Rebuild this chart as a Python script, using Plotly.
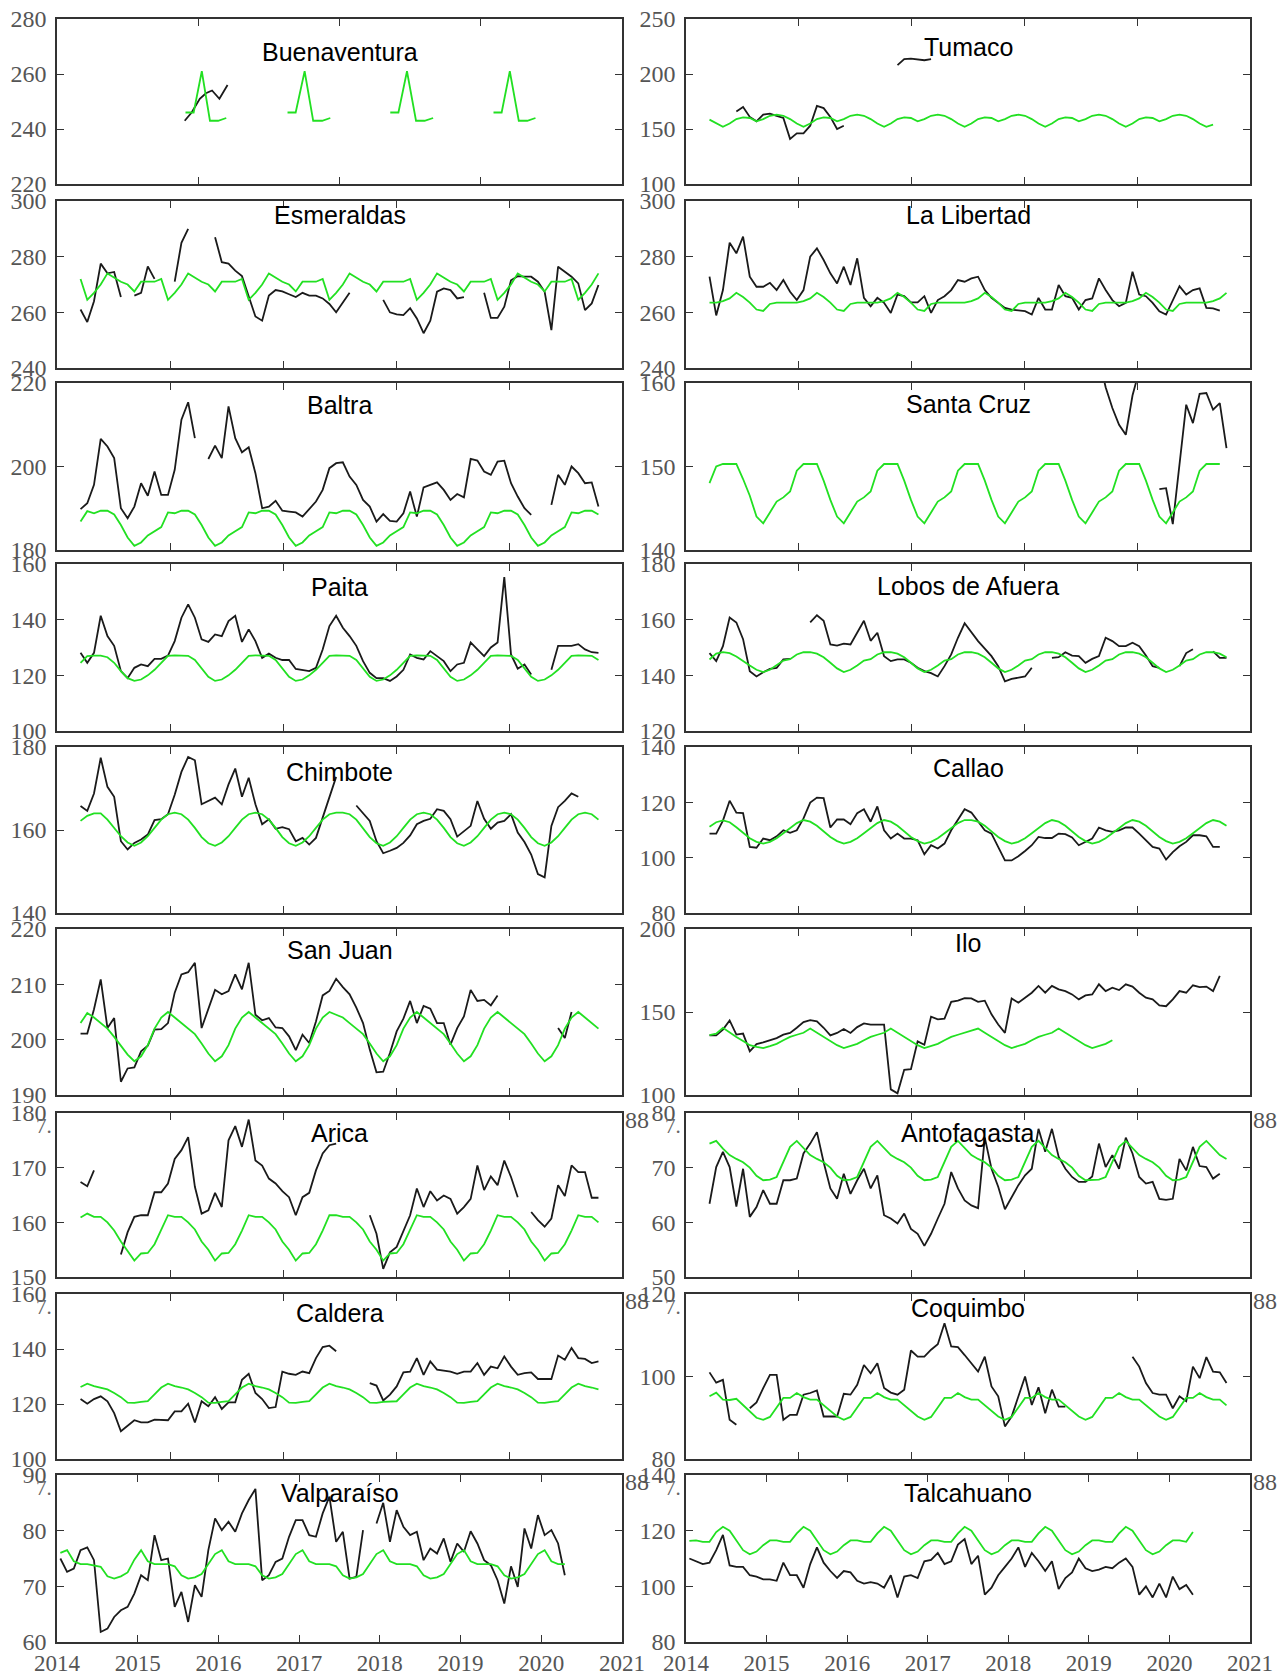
import plotly.graph_objects as go

W, H = 1279, 1677

STATIONS = ["Buenaventura", "Tumaco", "Esmeraldas", "La Libertad", "Baltra",
            "Santa Cruz", "Paita", "Lobos de Afuera", "Chimbote", "Callao",
            "San Juan", "Ilo", "Arica", "Antofagasta", "Caldera", "Coquimbo",
            "Valparaíso", "Talcahuano"]

Y_RANGES = [[220, 280], [100, 250], [240, 300], [240, 300], [180, 220], [140, 160],
            [100, 160], [120, 180], [140, 180], [80, 140], [190, 220], [100, 200],
            [150, 180], [50, 80], [100, 160], [80, 120], [60, 90], [80, 140]]
Y_TICKS = [[220, 240, 260, 280], [100, 150, 200, 250], [240, 260, 280, 300],
           [240, 260, 280, 300], [180, 200, 220], [140, 150, 160],
           [100, 120, 140, 160], [120, 140, 160, 180], [140, 160, 180],
           [80, 100, 120, 140], [190, 200, 210, 220], [100, 150, 200],
           [150, 160, 170, 180], [50, 60, 70, 80], [100, 120, 140, 160],
           [80, 100, 120], [60, 70, 80, 90], [80, 100, 120, 140]]
X_TICKS_QUARTER = [2015.75, 2017.5, 2019.25]
X_TICKS_FIFTH = [2015.4, 2016.8, 2018.2, 2019.6]
X_TICKS_YEAR = [2014, 2015, 2016, 2017, 2018, 2019, 2020, 2021]

# ---------------- data (observed: black, model: green) ----------------
# Buenaventura (decimal years)
BUE_OBS_X = [2015.582, 2015.668, 2015.769, 2015.845, 2015.921, 2016.012, 2016.113]
BUE_OBS_Y = [243, 246, 251, 253, 254, 251, 256]
BUE_MOD_X = [2015.592, 2015.693, 2015.794, 2015.895, 2015.996, 2016.097, None,
             2016.856, 2016.957, 2017.068, 2017.174, 2017.285, 2017.386, None,
             2018.129, 2018.230, 2018.336, 2018.448, 2018.554, 2018.660, None,
             2019.408, 2019.509, 2019.610, 2019.721, 2019.827, 2019.928]
BUE_MOD_Y = [246, 246, 261, 243, 243, 244, None,
             246, 246, 261, 243, 243, 244, None,
             246, 246, 261, 243, 243, 244, None,
             246, 246, 261, 243, 243, 244]

# Other stations: segments of (first month index, values); month 0 = Apr 2014
TUM_OBS = [(4, [166, 170, 161, 157, 163, 164, 162, 160, 141, 146, 146, 153, 171, 169, 161, 150, 153]),
           (28, [208, 213.5, 214, 213, 212.5, 213.5])]
TUM_MOD = (0, [158.5, 155,
               152, 155, 159, 160.5, 160, 157, 159, 162, 163, 162, 159, 155,
               152, 155, 159, 160.5, 160, 157, 159, 162, 163, 162, 159, 155,
               152, 155, 159, 160.5, 160, 157, 159, 162, 163, 162, 159, 155,
               152, 155, 159, 160.5, 160, 157, 159, 162, 163, 162, 159, 155,
               152, 155, 159, 160.5, 160, 157, 159, 162, 163, 162, 159, 155,
               152, 155, 159, 160.5, 160, 157, 159, 162, 163, 162, 159, 155,
               152, 154])

ESM_OBS = [(0, [261, 256.5, 264, 277.5, 274, 274.5, 265.5]),
           (8, [266, 267, 276.5, 272]),
           (14, [271, 285, 290]),
           (20, [287, 278, 277.5, 275, 273, 265.5, 258.5, 257, 266, 268, 267.5, 266.5, 265.5,
                 267, 266, 266, 265, 263, 260, 263.5, 267]),
           (45, [264.5, 260, 259.3, 259, 261.5, 257.8, 252.5, 257, 267.4, 268.6, 268, 265, 265.5]),
           (60, [267, 258, 258, 262, 271.5, 273, 272.8, 272.8, 271, 267.4, 253.6, 276.4, 274.6,
                 272.8, 270.4, 260.8, 263.2, 269.8])]
ESM_MOD = (0, [272,
               264.5, 267, 270, 274, 272.5, 271, 270, 267.5, 271, 271, 271, 272,
               264.5, 267, 270, 274, 272.5, 271, 270, 267.5, 271, 271, 271, 272,
               264.5, 267, 270, 274, 272.5, 271, 270, 267.5, 271, 271, 271, 272,
               264.5, 267, 270, 274, 272.5, 271, 270, 267.5, 271, 271, 271, 271, 272,
               264.5, 267, 270, 274, 272.5, 271, 270, 267.5, 271, 271, 271, 272,
               264.5, 267, 270, 274, 272.5, 271, 270, 267.5, 271, 271, 271, 272,
               264.5, 267, 270, 274])

LIB_OBS = [(0, [272.8, 258.9, 268, 285, 281.2, 287.2, 272.8, 269.2, 269.2, 270.6,
                268, 271.6, 267.4, 264.4, 268, 280, 283, 278.8, 274, 270.4,
                276.4, 269.8, 279.4, 265.2, 262.2, 265.2, 263.4, 259.8, 266.4, 265.8,
                263.6, 263.6, 265.8, 259.8, 264.4, 265.8, 268, 271.6, 271, 272.2,
                272.8, 268, 265.2, 263.4, 261.6, 261, 260.6, 260.4, 259.2, 265.2,
                261, 261, 269.8, 265.8, 265.2, 261, 264.4, 265, 272.2, 268,
                264.4, 262.2, 263.4, 274.6, 266.4, 265.8, 263.4, 260.4, 259.2, 264.4,
                269.4, 266.4, 268, 268.6, 261.6, 261.4, 260.6])]
LIB_MOD = (0, [263.5, 263.5, 264, 265,
               267, 265.5, 263.5, 261, 260.5, 263, 263.5, 263.5, 263.5, 263.5, 264, 265,
               267, 265.5, 263.5, 261, 260.5, 263, 263.5, 263.5, 263.5, 263.5, 264, 265,
               267, 265.5, 263.5, 261, 260.5, 263, 263.5, 263.5, 263.5, 263.5, 263.5, 264, 265,
               267, 265.5, 263.5, 261, 260.5, 263, 263.5, 263.5, 263.5, 263.5, 264, 265,
               267, 265.5, 263.5, 261, 260.5, 263, 263.5, 263.5, 263.5, 263.5, 264, 265,
               267, 265.5, 263.5, 261, 260.5, 263, 263.5, 263.5, 263.5, 263.5, 264, 265,
               267])

BAL_OBS = [(0, [189.8, 191.2, 195.6, 206.6, 204.8, 202, 190, 187.6, 190.4, 196, 193, 198.8,
                193.2, 193.2, 199.2, 211.2, 215.4, 206.8]),
           (19, [201.8, 205, 202, 214.4, 206.8, 203.4, 204.6, 198.4, 190, 190.4,
                 191.8, 189.4, 189.2, 189, 188, 189.8, 191.6, 194.4, 199.6, 200.8,
                 201, 197.6, 195.6, 192, 190.4, 186.8, 188.6, 187, 186.8, 188.8,
                 194, 188, 195, 195.6, 196.2, 194.4, 192, 193.4, 192.6, 201.8,
                 201.4, 198.8, 198, 201.2, 201.4, 196, 192.8, 190, 188.4]),
           (70, [190.8, 198, 195.6, 200, 198.4, 196, 196.2, 190.4])]
BAL_MOD = (0, [186.8, 189.3, 188.8, 189.4, 189.4, 188.5, 186, 183, 181,
               181.8, 183.5, 184.5, 185.5, 189, 188.8, 189.4, 189.4, 188.5, 186, 183, 181,
               181.8, 183.5, 184.5, 185.5, 189, 188.8, 189.4, 189.4, 188.5, 186, 183, 181,
               181.8, 183.5, 184.5, 185.5, 189, 188.8, 189.4, 189.4, 188.5, 186, 183, 181,
               181.8, 183.5, 184.5, 185.5, 189, 188.8, 189.4, 189.4, 188.5, 186, 183, 181,
               181.8, 183.5, 184.5, 185.5, 189, 188.8, 189.4, 189.4, 188.5, 186, 183, 181,
               181.8, 183.5, 184.5, 185.5, 189, 188.8, 189.4, 189.4, 188.5])

SCZ_OBS = [(58, [163, 159.5, 157, 155, 153.8, 158.5, 161.5]),
           (67, [147.3, 147.4, 143.1, 150.5, 157.4, 155.2, 158.7, 158.8, 156.8, 157.6, 152.2])]
SCZ_MOD = (0, [148, 150, 150.3, 150.3, 150.3, 148.5, 146.5, 144, 143.2,
               144.5, 145.8, 146.3, 147, 149.5, 150.3, 150.3, 150.3, 148.3, 146, 144, 143.2,
               144.5, 145.8, 146.3, 147, 149.5, 150.3, 150.3, 150.3, 148.3, 146, 144, 143.2,
               144.5, 145.8, 146.3, 147, 149.5, 150.3, 150.3, 150.3, 148.3, 146, 144, 143.2,
               144.5, 145.8, 146.3, 147, 149.5, 150.3, 150.3, 150.3, 148.3, 146, 144, 143.2,
               144.5, 145.8, 146.3, 147, 149.5, 150.3, 150.3, 150.3, 148.3, 146, 144, 143.2,
               144.5, 145.8, 146.3, 147, 149.5, 150.3, 150.3, 150.3])

PAI_OBS = [(0, [128.1, 124.5, 128.1, 141.4, 134.1, 130.6, 121.5, 119, 122.7, 123.9,
                123.3, 125.9, 125.9, 127.1, 132.3, 140.7, 145.5, 140.7, 132.9, 132,
                134.7, 134.1, 139.5, 141.4, 132, 136.5, 132.3, 126.3, 127.8, 126.3,
                125.5, 125.5, 122.3, 122, 121.5, 122.7, 129.3, 137.7, 141.4, 137.1,
                134.1, 130.6, 125.1, 120.9, 119, 119, 118, 119.6, 122, 127.5,
                126.3, 125.7, 128.7, 126.9, 125.1, 121.5, 123.9, 124.5, 131.8, 129.3,
                126.9, 130, 131.8, 155.3, 127.5, 122.4, 123.9, 120.3]),
           (70, [122, 130.6, 130.6, 130.6, 131.2, 129.3, 128.3, 128.1])]
PAI_MOD = (0, [124.5, 126.9, 127.1, 127.1, 126.5, 124.5, 121.5, 119, 118,
               118.5, 120, 122, 124.5, 127, 127.2, 127.2, 127, 125.5, 122.5, 119.5, 118,
               118.5, 120, 122, 124.5, 127, 127.2, 127.2, 127, 125.5, 122.5, 119.5, 118,
               118.5, 120, 122, 124.5, 127, 127.2, 127.2, 127, 125.5, 122.5, 119.5, 118,
               118.5, 120, 122, 124.5, 127, 127.2, 127.2, 127, 125.5, 122.5, 119.5, 118,
               118.5, 120, 122, 124.5, 127, 127.2, 127.2, 127, 125.5, 122.5, 119.5, 118,
               118.5, 120, 122, 124.5, 127, 127.2, 127.2, 127, 125.5])

LOB_OBS = [(0, [148, 145.1, 150.5, 160.8, 159, 153, 141.5, 139.6, 141.1, 142.3, 142.7, 145.7, 145.9]),
           (15, [159, 161.6, 159.6, 151.1, 150.7, 151.4, 151.1, 155.3, 159.6, 152.4,
                 155.3, 146.9, 145.1, 145.7, 145.7, 144.5, 142.7, 141.5, 140.8, 139.6,
                 143.3, 147.5, 153.5, 158.7, 155.3, 152.3, 149.6, 146.9, 143.3, 137.8,
                 138.7, 139.1, 139.6, 142.7]),
           (51, [146.3, 146.5, 148.3, 147.1, 146.9, 144.5, 145.9, 146.9, 153.5, 152.3,
                 150.5, 150.5, 151.7, 150.5, 147.1, 143.3, 142.7]),
           (70, [143.3, 148, 149.4]),
           (75, [148.6, 146.3, 146.3])]
LOB_MOD = (0, [145.7, 147.8, 148.3, 148, 146.8, 145, 143.5, 142, 141.2,
               142, 143.5, 145.3, 145.8, 147.5, 148.3, 148.3, 147.8, 146.5, 144.5, 142.5, 141.2,
               142, 143.5, 145.3, 145.8, 147.5, 148.3, 148.3, 147.8, 146.5, 144.5, 142.5, 141.2,
               142, 143.5, 145.3, 145.8, 147.5, 148.3, 148.3, 147.8, 146.5, 144.5, 142.5, 141.2,
               142, 143.5, 145.3, 145.8, 147.5, 148.3, 148.3, 147.8, 146.5, 144.5, 142.5, 141.2,
               142, 143.5, 145.3, 145.8, 147.5, 148.3, 148.3, 147.8, 146.5, 144.5, 142.5, 141.2,
               142, 143.5, 145.3, 145.8, 147.5, 148.3, 148.3, 147.8, 146.5])

CHI_OBS = [(0, [165.8, 164.6, 168.8, 177.4, 170.4, 168, 157.3, 155.3, 156.9, 157.7,
                158.9, 162.4, 162.6, 163.8, 168.5, 174, 177.6, 176.8, 166.2, 167,
                167.8, 166.2, 171, 174.8, 168, 172.6, 166.2, 161.4, 162.6, 160.3,
                160.7, 160.2, 157.3, 158.1, 156.5, 158.1, 163, 168, 172.8]),
           (41, [165.9, 164, 162.2, 157.3, 154.4, 155, 155.7, 156.9, 158.7, 161.4,
                 162.2, 162.7, 165, 164.6, 162.6, 158.4, 159.8, 161, 167, 162.7,
                 160.3, 161.8, 162.2, 163.8, 159.4, 157.1, 154.1, 149.4, 148.6, 161,
                 165.5, 167, 168.8, 168])]
CHI_MOD = (0, [162.2, 163.4, 164, 164, 162.5, 160.5, 158.5, 157, 156.2,
               157, 158.5, 160.5, 162.5, 163.8, 164.2, 163.8, 162.5, 160.5, 158.3, 156.8, 156.2,
               157, 158.5, 160.5, 162.5, 163.8, 164.2, 163.8, 162.5, 160.5, 158.3, 156.8, 156.2,
               157, 158.5, 160.5, 162.5, 163.8, 164.2, 164.2, 163.8, 162.5, 160.5, 158.3, 156.8, 156.2,
               157, 158.5, 160.5, 162.5, 163.8, 164.2, 163.8, 162.5, 160.5, 158.3, 156.8, 156.2,
               157, 158.5, 160.5, 162.5, 163.8, 164.2, 163.8, 162.5, 160.5, 158.3, 156.8, 156.2,
               157, 158.5, 160.5, 162.5, 163.8, 164.2, 163.8, 162.5])

CAL_OBS = [(0, [108.7, 108.7, 113.4, 120.6, 116.3, 116.1, 103.9, 103.6, 106.9, 106.3,
                107.7, 109.9, 109, 109.9, 114.2, 119.9, 121.7, 121.5, 110.9, 113.8,
                113.8, 112.1, 116.1, 117.5, 113, 118.5, 109.9, 106.9, 108.7, 106.9,
                106.9, 106.3, 101.2, 104.5, 103.3, 105.1, 109.9, 113.5, 117.5, 116.3,
                113, 109.9, 108.7, 103.9, 99, 99, 100.5, 102.4, 104.5, 107.5,
                107.1, 107.1, 108.7, 108.5, 107.3, 104.5, 105.7, 106.9, 110.9, 109.9,
                109.3, 109.9, 110.9, 110.9, 108.7, 106.3, 103.9, 103.3, 99.3, 102,
                104.1, 105.7, 108.1, 108.1, 107.7, 103.9, 103.9])]
CAL_MOD = (0, [111.2, 112.8, 113.5, 112.8, 111, 109, 107, 105.7, 105.1,
               105.7, 107, 108.8, 110.8, 112.5, 113.6, 113, 111.5, 109.5, 107.5, 106, 105.1,
               105.7, 107, 108.8, 110.8, 112.5, 113.6, 113, 111.5, 109.5, 107.5, 106, 105.1,
               105.7, 107, 108.8, 110.8, 112.5, 113.6, 113.6, 113, 111.5, 109.5, 107.5, 106, 105.1,
               105.7, 107, 108.8, 110.8, 112.5, 113.6, 113, 111.5, 109.5, 107.5, 106, 105.1,
               105.7, 107, 108.8, 110.8, 112.5, 113.6, 113, 111.5, 109.5, 107.5, 106, 105.1,
               105.7, 107, 108.8, 110.8, 112.5, 113.6, 113, 111.5])

SJU_OBS = [(0, [201.1, 201.1, 205.5, 210.9, 202.1, 203.9, 192.4, 194.8, 195, 197.9,
                198.9, 201.8, 201.9, 203, 208.5, 211.8, 212.2, 213.9, 202.1, 205.5,
                209, 208.2, 208.8, 211.8, 209.1, 213.9, 204.5, 203.5, 203.9, 202.2,
                202.1, 200.6, 198.1, 200.9, 199.4, 203.3, 208, 208.8, 211, 209.5,
                208.2, 205.8, 203, 198.2, 194.1, 194.2, 197.6, 201.5, 203.8, 207,
                203, 206.1, 205.6, 203, 203, 199.1, 202.1, 204.2, 209, 207,
                207.2, 206.2, 208]),
           (71, [202.1, 200.3, 205])]
SJU_MOD = (0, [203, 204.8, 204, 203, 202, 200.5, 199, 197.3, 196.1,
               197, 199, 202, 204, 205, 204, 203, 202, 201, 199.3, 197.5, 196.1,
               197, 199, 202, 204, 205, 204, 203, 202, 201, 199.3, 197.5, 196.1,
               197, 199, 202, 204, 205, 204.5, 204, 203, 202, 201, 199.3, 197.5, 196.1,
               197, 199, 202, 204, 205, 204, 203, 202, 201, 199.3, 197.5, 196.1,
               197, 199, 202, 204, 205, 204, 203, 202, 201, 199.3, 197.5, 196.1,
               197, 199, 202, 204, 205, 204, 203, 202])

ILO_OBS = [(0, [135.9, 135.9, 139.4, 144.9, 136.4, 137, 126.3, 130.7, 131.7, 132.9,
                134.3, 136.4, 137.4, 140.5, 143.9, 145.1, 144.4, 140.5, 135.9, 137.4,
                139.8, 137.4, 140.9, 143.1, 142.4, 142.4, 142.4, 103.4, 101, 115.2,
                115.6, 132.3, 130.3, 147.2, 145.6, 146, 156.1, 156.8, 158.4, 158.2,
                156.1, 156.8, 148.6, 142.5, 137.4, 158.2, 155.6, 158.6, 161.6, 165.7,
                161.6, 165.7, 163.6, 162.6, 160.6, 157.6, 160, 160.6, 166.7, 162.6,
                164.6, 163.2, 166.7, 165.3, 161.6, 158.6, 157.6, 154, 153.5, 157.6,
                162.6, 161.6, 166.1, 165, 165.3, 162.6, 171.7])]
ILO_MOD = (0, [136, 137, 140.5, 137.5, 135, 132.5, 130, 129, 128.3,
               129.5, 130.8, 133, 135, 136.3, 137.5, 140, 137.5, 135, 132.5, 130, 128.3,
               129.5, 130.8, 133, 135, 136.3, 137.5, 140, 137.5, 135, 132.5, 130, 128.3,
               129.5, 130.8, 133, 135, 136.3, 137.5, 139, 140, 137.5, 135, 132.5, 130, 128.3,
               129.5, 130.8, 133, 135, 136.3, 137.5, 140, 137.5, 135, 132.5, 130, 128.3,
               129.5, 130.8, 133])

ARI_OBS = [(0, [167.4, 166.6, 169.5]),
           (6, [154.1, 158.2, 161, 161.3, 161.3, 165.5, 165.5, 167.1, 171.6, 173.2,
                175.6, 166.5, 161.6, 162.2, 165.4, 162.8, 175, 177.6, 173.8, 178.8,
                171.3, 170.4, 168, 167.1, 165.7, 164.6, 161.3, 164.6, 165.4, 169.5,
                172.6, 174.1, 174.4]),
           (43, [161.3, 157.9, 151.5, 154.5, 155.5, 158.5, 161.3, 166.2, 162.8, 165.7,
                 164, 164.9, 164.3, 161.6, 162.8, 164.3, 170.4, 165.9, 168.4, 166.8,
                 171.3, 168.3, 164.6]),
           (67, [161.9, 160.4, 159.2, 160.7, 166.8, 164.8, 170.4, 169.2, 169.2, 164.5, 164.5])]
ARI_MOD = (0, [160.9, 161.6, 161, 161, 160, 158.5, 156.5, 154.8, 153,
               154.3, 154.4, 156, 158.5, 161.3, 161, 161, 160, 158.7, 156.5, 155, 153,
               154.3, 154.4, 156, 158.5, 161.3, 161, 161, 160, 158.7, 156.5, 155, 153,
               154.3, 154.4, 156, 158.5, 161.3, 161.3, 161, 161, 160, 158.7, 156.5, 155, 153,
               154.3, 154.4, 156, 158.5, 161.3, 161, 161, 160, 158.7, 156.5, 155, 153,
               154.3, 154.4, 156, 158.5, 161.3, 161, 161, 160, 158.7, 156.5, 155, 153,
               154.3, 154.4, 156, 158.5, 161.3, 161, 161, 160])

ANT_OBS = [(0, [63.4, 70.1, 72.9, 70.1, 62.9, 69.8, 61, 62.8, 65.9, 63.4,
                63.4, 67.7, 67.7, 68, 72.6, 74.4, 76.5, 71, 66.2, 64.3,
                68.9, 65.2, 67.7, 69.8, 66.2, 68.6, 61.3, 60.7, 59.8, 61.6,
                58.8, 57.9, 55.7, 57.9, 60.7, 63.4, 69.2, 66.2, 64, 63.1,
                62.6, 75.5, 69.8, 66.5, 62.4, 64.6, 66.8, 68.6, 69.8, 77.1,
                72.9, 77.1, 72, 69.8, 68.3, 67.4, 67.4, 68.4, 74.4, 70.1,
                72.3, 69.8, 75.5, 72.6, 68.3, 67.1, 67.4, 64.3, 64.1, 64.3,
                71.6, 69.5, 73.8, 70.3, 70.1, 68, 68.9])]
ANT_MOD = (0, [74.4,
               74.9, 73.5, 72.3, 71.6, 71, 70, 68.5, 67.7, 67.8, 68.3, 71, 73.8,
               74.9, 73.5, 72.3, 71.6, 71, 70, 68.5, 67.7, 67.8, 68.3, 71, 73.8,
               74.9, 73.5, 72.3, 71.6, 71, 70, 68.5, 67.7, 67.8, 68.3, 71, 73.8,
               74.9, 73.5, 72.3, 71.6, 71, 70, 68.5, 67.7, 67.8, 68.3, 71, 73.8,
               74.9, 73.5, 72.3, 71.6, 71, 70, 68.5, 67.7, 67.8, 67.8, 68.3, 71, 73.8,
               74.9, 73.5, 72.3, 71.6, 71, 70, 68.5, 67.7, 67.8, 68.3, 71, 73.8,
               74.9, 73.5, 72.3, 71.6])

CLD_OBS = [(0, [121.8, 120.1, 121.8, 122.8, 121, 116.7, 110.1, 112.1, 114.1, 113.3,
                113.3, 114.3, 114.1, 114.1, 117.3, 117.3, 120.1, 113.3, 121, 119.2,
                122.5, 118.2, 120.6, 120.6, 128.8, 131, 124, 121.8, 118.5, 118.9,
                131.8, 131, 130.6, 131.8, 131.2, 136.7, 140.7, 141.2, 139.2]),
           (43, [127.6, 126.7, 121.3, 123.4, 126.4, 131.5, 131.8, 136.7, 130.6, 135.5,
                 132.5, 132.2, 131.8, 131, 131.8, 131.8, 134.9, 130.6, 133.6, 133,
                 137.3, 133.6, 130.6, 131.2, 131.5, 129.1, 129.1, 129.1, 137.6, 136.1,
                 140.4, 136.7, 136.4, 134.9, 135.5])]
CLD_MOD = (0, [126.2,
               127.4, 126.5, 126, 125.3, 124, 122.5, 120.5, 120.4, 120.8, 121, 123.5, 126,
               127.4, 126.5, 126, 125.3, 124, 122.5, 120.5, 120.4, 120.8, 121, 123.5, 126,
               127.4, 126.5, 126, 125.3, 124, 122.5, 120.5, 120.4, 120.8, 121, 123.5, 126,
               127.4, 126.5, 126, 125.3, 124, 122.5, 120.5, 120.4, 120.8, 120.8, 121, 123.5, 126,
               127.4, 126.5, 126, 125.3, 124, 122.5, 120.5, 120.4, 120.8, 121, 123.5, 126,
               127.4, 126.5, 126, 125.3, 124, 122.5, 120.5, 120.4, 120.8, 121, 123.5, 126,
               127.4, 126.5, 126, 125.3])

COQ_OBS = [(0, [101, 98.5, 99.2, 89.5, 88.3]),
           (6, [92.3, 93.7, 97.2, 100.4, 100.4, 89.5, 90.7, 90.7, 95.6, 96,
                96.6, 90.3, 90.3, 90.3, 95.8, 95.6, 98, 102.8, 100.8, 103.2,
                97.2, 96.1, 95.6, 96.8, 106.3, 104.8, 104.8, 106.5, 107.8, 112.9,
                107.3, 107.1, 105.2, 103.2, 101.2, 104.8, 97.6, 95.2, 87.9, 90.3,
                95.2, 100, 93.1, 97.4, 91.1, 96.8, 92.7, 92.7]),
           (63, [104.8, 102.4, 98.4, 96, 95.6, 95.6, 92.3, 95.2, 94, 102.4, 99.6, 104.7, 101.2, 101, 98.4])]
COQ_MOD = (0, [95.2, 96.1, 94.4, 94.3, 94.6, 93, 91.5, 90, 89.5,
               90.2, 92.5, 94.8, 94.8, 96, 95, 94.4, 94.4, 93, 91.5, 90.3, 89.5,
               90.2, 92.5, 94.8, 94.8, 96, 95, 94.4, 94.4, 93, 91.5, 90.3, 89.5,
               90.2, 92.5, 94.8, 94.8, 96, 95, 94.4, 94.4, 93, 91.5, 90.3, 89.5,
               90.2, 92.5, 94.8, 94.8, 96, 95, 94.4, 94.4, 93, 91.5, 90.3, 89.5,
               90.2, 92.5, 94.8, 94.8, 96, 95, 94.4, 94.4, 93, 91.5, 90.3, 89.5,
               90.2, 92.5, 94.8, 94.8, 96, 95, 94.4, 94.4, 93])

VAL_OBS = [(-3, [75, 72.6, 73.2, 76.5, 77, 74.7, 61.8, 62.4, 64.5, 65.7, 66.3, 68.7, 72, 71.1,
                 79.2, 74.7, 75, 66.3, 69, 63.6, 70.2, 68.1, 76.5, 82.2, 80.1, 81.6, 79.8,
                 83.1, 85.5, 87.5, 71.1, 72, 74.4, 75, 78.9, 81.9, 81.9, 79.2, 78.9, 83.1,
                 86.1, 78, 79.8, 71.4, 71.7, 80.1]),
           (44, [81.3, 85, 78, 83.7, 80.7, 79.2, 79.8, 74.7, 76.8, 75.9, 78.6, 74.4, 77.7,
                 76.2, 79.9, 77.7, 74.7, 73.8, 71.1, 66.9, 73.6, 69.9, 80.4, 76.8, 82.8,
                 79.2, 80.1, 77.7, 72])]
VAL_MOD = (-3, [76,
                76.5, 74.5, 74, 74, 73.8, 73.5, 71.8, 71.4, 71.8, 72.5, 74.8,
                76.5, 74.5, 74, 74, 74, 73.6, 72, 71.4, 71.6, 72.2, 74, 75.8,
                76.5, 74.5, 74, 74, 74, 73.6, 72, 71.4, 71.6, 72.2, 74, 75.8,
                76.5, 74.5, 74, 74, 74, 73.6, 72, 71.4, 71.6, 72.2, 74, 75.8,
                76.5, 74.5, 74, 74, 74, 73.6, 72, 71.4, 71.6, 72.2, 74, 75.8,
                76.5, 74.5, 74, 74, 74, 73.6, 72, 71.4, 71.6, 72.2, 74, 75.8,
                76.5, 74.5, 74, 74])

TAL_OBS = [(-3, [110, 109, 108, 108.5, 113, 118.5, 107.5, 107, 107, 104,
                 103.5, 102.5, 102.5, 102, 108.5, 104, 104, 99.5, 108, 114,
                 108.5, 105.5, 103, 105.5, 105, 102, 101, 101.5, 101, 99.5,
                 104, 96, 103.5, 104, 103, 109, 109.5, 112, 108, 109,
                 115, 117, 108, 111, 97, 99.5, 104, 107, 110, 114,
                 107, 112, 109, 105.5, 109, 99, 103, 105, 110, 106.5,
                 105.5, 106, 107, 106.5, 108.5, 110, 107, 97, 100, 96,
                 101, 96, 103.5, 99, 100.5, 97])]
TAL_MOD = (-3, [116.3, 116.5, 116, 116, 119.5,
                121.4, 120, 116.5, 113, 111.5, 112.5, 114.8, 116.5, 116.5, 116, 116, 119,
                121.4, 120, 116.5, 113, 111.5, 112.5, 114.8, 116.5, 116.5, 116, 116, 119,
                121.4, 120, 116.5, 113, 111.5, 112.5, 114.8, 116.5, 116.5, 116, 116, 119,
                121.4, 120, 116.5, 113, 111.5, 112.5, 114.8, 116.5, 116.5, 116, 116, 119,
                121.4, 120, 116.5, 113, 111.5, 112.5, 114.8, 116.5, 116.5, 116, 116, 119,
                121.4, 120, 116.5, 113, 111.5, 112.5, 114.8, 116.5, 116.5, 116,
                119.5])

OBS_LIST = [None, TUM_OBS, ESM_OBS, LIB_OBS, BAL_OBS, SCZ_OBS, PAI_OBS, LOB_OBS,
            CHI_OBS, CAL_OBS, SJU_OBS, ILO_OBS, ARI_OBS, ANT_OBS, CLD_OBS, COQ_OBS,
            VAL_OBS, TAL_OBS]
MOD_LIST = [None, TUM_MOD, ESM_MOD, LIB_MOD, BAL_MOD, SCZ_MOD, PAI_MOD, LOB_MOD,
            CHI_MOD, CAL_MOD, SJU_MOD, ILO_MOD, ARI_MOD, ANT_MOD, CLD_MOD, COQ_MOD,
            VAL_MOD, TAL_MOD]

# ---------------- layout (pixels) ----------------
COL_L = [57, 686]
COL_R = [622, 1250]
ROW_T = [19, 201, 383, 564, 747, 929, 1113, 1294, 1475]
ROW_B = [184, 368, 550, 731, 913, 1095, 1277, 1459, 1642]
TITLE_OFF = [33, 28.5, 14, 14, 21.7, 20.8, 22.7, 22, 25, 21, 21.5, 14,
             19.5, 20, 18.5, 13.5, 17.5, 17.5]

BLACK = "#1a1a1a"
GREEN = "#22e022"
AXC = "#333333"
SERIF = "Liberation Serif, Tinos, Times New Roman, DejaVu Serif, serif"
TICKFONT = dict(family=SERIF, size=24, color="#555555")
XTICKFONT = dict(family=SERIF, size=23, color="#555555")


def month_x(i):
    return 2014 + (i + 3.5) / 12.0


def seg_xy(segments):
    xs, ys = [], []
    for start, vals in segments:
        if xs:
            xs.append(None)
            ys.append(None)
        for j, v in enumerate(vals):
            xs.append(month_x(start + j))
            ys.append(v)
    return xs, ys


fig = go.Figure()
axes = {}
annots = []
for k in range(18):
    r, c = divmod(k, 2)
    n = k + 1
    xa = "x" if n == 1 else f"x{n}"
    ya = "y" if n == 1 else f"y{n}"
    if k == 0:
        ox, oy = BUE_OBS_X, BUE_OBS_Y
        mxs, mys = BUE_MOD_X, BUE_MOD_Y
    else:
        ox, oy = seg_xy(OBS_LIST[k])
        mxs, mys = seg_xy([MOD_LIST[k]])
    fig.add_trace(go.Scatter(x=ox, y=oy, mode="lines", xaxis=xa, yaxis=ya,
                             line=dict(color=BLACK, width=1.8), hoverinfo="skip"))
    fig.add_trace(go.Scatter(x=mxs, y=mys, mode="lines", xaxis=xa, yaxis=ya,
                             line=dict(color=GREEN, width=1.8), hoverinfo="skip"))

    if r == 8:
        xt, show = X_TICKS_YEAR, True
    elif k == 0:
        xt, show = X_TICKS_QUARTER, False
    else:
        xt, show = X_TICKS_FIFTH, False
    xname = "xaxis" if n == 1 else f"xaxis{n}"
    yname = "yaxis" if n == 1 else f"yaxis{n}"
    axes[xname] = dict(domain=[COL_L[c] / W, COL_R[c] / W], anchor=ya,
                       range=[2014, 2021], tickmode="array", tickvals=xt,
                       ticktext=[str(v) for v in xt], showticklabels=show,
                       ticks="inside", ticklen=7, tickwidth=1.2, tickcolor=AXC,
                       showline=True, linecolor=AXC, linewidth=1.5, mirror="ticks",
                       showgrid=False, zeroline=False, tickfont=XTICKFONT,
                       ticklabelstandoff=0, automargin=False)
    axes[yname] = dict(domain=[1 - ROW_B[r] / H, 1 - ROW_T[r] / H], anchor=xa,
                       range=Y_RANGES[k], tickmode="array", tickvals=Y_TICKS[k],
                       ticktext=[str(v) for v in Y_TICKS[k]],
                       ticks="inside", ticklen=7, tickwidth=1.2, tickcolor=AXC,
                       showline=True, linecolor=AXC, linewidth=1.5, mirror="ticks",
                       showgrid=False, zeroline=False, tickfont=TICKFONT,
                       ticklabelstandoff=4, automargin=False)
    annots.append(dict(text=STATIONS[k], xref="paper", yref="paper",
                       x=(COL_L[c] + COL_R[c]) / 2 / W,
                       y=1 - (ROW_T[r] + TITLE_OFF[k]) / H,
                       xanchor="center", yanchor="middle", showarrow=False,
                       font=dict(family="Liberation Sans, Arial, sans-serif", size=25,
                                 color="black")))
    if r >= 6:
        annots.append(dict(text="88", xref="paper", yref="paper",
                           x=(COL_R[c] + 1) / W, y=1 - (ROW_T[r] + 7) / H,
                           xanchor="left", yanchor="middle", showarrow=False,
                           font=TICKFONT))
        annots.append(dict(text="7.", xref="paper", yref="paper",
                           x=(COL_L[c] - 3) / W, y=1 - (ROW_T[r] + 13) / H,
                           xanchor="right", yanchor="middle", showarrow=False,
                           font=dict(family=SERIF, size=21, color="#666666")))

fig.update_layout(width=W, height=H, autosize=False,
                  margin=dict(l=0, r=0, t=0, b=0, pad=0, autoexpand=False),
                  paper_bgcolor="white", plot_bgcolor="white",
                  showlegend=False, annotations=annots, **axes)

fig.write_html("out.html", config={"displayModeBar": False},
               post_script="document.body.style.margin='0';")
